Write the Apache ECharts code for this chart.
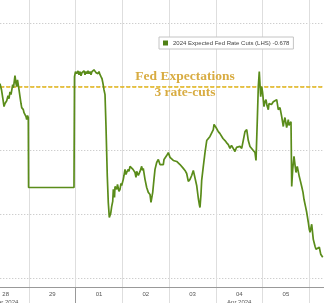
<!DOCTYPE html>
<html>
<head>
<meta charset="utf-8">
<script src="https://cdn.jsdelivr.net/npm/echarts@6/dist/echarts.min.js"></script>
<style>html,body{margin:0;padding:0;background:#fff}#c{width:324px;height:303px}</style>
</head>
<body>
<div id="c"></div>
<script>
// trading-day labels (index 0 = Mar 28, 1 = Mar 29, 2 = Apr 1 ...)
var dayLabels = ['28','29','01','02','03','04','05','08'];
var monthLabels = ['Mar 2024','','','','','Apr 2024','',''];
var monthStartIndex = [2];
var yMin = -0.8, yMax = -0.65, yStep = 0.025;
var threeCuts = -0.75;
var seriesName = '2024 Expected Fed Rate Cuts (LHS) -0.678';
var annotation = ['Fed Expectations', '3 rate-cuts'];

// time in trading-day units, value = expected 2024 cuts (%)
var times = [0.379,0.411,0.444,0.465,0.486,0.523,0.551,0.572,0.593,0.615,0.651,0.668,0.700,0.722,0.737,0.754,0.771,0.786,0.807,0.829,0.844,0.878,0.893,0.914,0.936,0.951,0.968,0.985,0.991,1.963,
1.974,1.995,2.021,2.049,2.070,2.092,2.113,2.134,2.156,2.177,2.199,2.220,2.241,2.263,2.284,2.306,2.327,2.348,2.370,2.391,2.413,2.434,2.455,2.477,2.498,2.520,2.541,2.563,2.584,2.605,2.627,2.648,2.676,2.697,2.719,2.734,2.749,2.770,2.792,2.805,2.830,2.841,2.877,2.894,2.912,2.926,2.948,2.969,2.984,
3.018,3.033,3.055,3.076,3.091,3.125,3.140,3.162,3.198,3.226,3.269,3.290,3.305,3.340,3.376,3.412,3.429,3.446,3.483,3.519,3.554,3.590,3.611,3.648,3.675,3.697,3.733,3.768,3.804,3.840,3.875,3.890,3.947,3.982,
4.018,4.054,4.089,4.125,4.161,4.189,4.232,4.264,4.303,4.339,4.375,4.410,4.446,4.482,4.517,4.553,4.589,4.624,4.649,4.660,4.681,4.696,4.731,4.767,4.804,4.838,4.874,4.911,4.945,4.960,4.981,
5.003,5.052,5.088,5.125,5.152,5.195,5.227,5.266,5.302,5.334,5.373,5.409,5.441,5.480,5.516,5.553,5.587,5.623,5.660,5.694,5.730,5.767,5.801,5.837,5.859,5.887,5.908,5.929,5.944,5.959,5.981,5.998,
6.015,6.030,6.051,6.073,6.094,6.122,6.137,6.158,6.190,6.229,6.265,6.302,6.336,6.372,6.409,6.443,6.458,6.479,6.515,6.550,6.565,6.587,6.608,6.623,6.644,6.672,6.693,6.715,6.742,6.785,6.811,6.837,6.865,6.886,6.918,6.944,6.978,6.999,
7.015,7.051,7.085,7.122,7.143,7.171,7.214,7.244,7.287];
var cuts = [-0.7512,-0.7488,-0.7449,-0.7422,-0.7434,-0.7445,-0.7465,-0.7453,-0.7480,-0.7469,-0.7508,-0.7496,-0.7543,-0.7512,-0.7500,-0.7527,-0.7520,-0.7488,-0.7461,-0.7434,-0.7418,-0.7410,-0.7398,-0.7391,-0.7383,-0.7371,-0.7387,-0.7379,-0.7105,-0.7105,
-0.7539,-0.7559,-0.7551,-0.7562,-0.7547,-0.7559,-0.7543,-0.7555,-0.7551,-0.7562,-0.7547,-0.7559,-0.7551,-0.7562,-0.7551,-0.7559,-0.7547,-0.7559,-0.7555,-0.7566,-0.7562,-0.7555,-0.7559,-0.7551,-0.7559,-0.7547,-0.7539,-0.7531,-0.7512,-0.7488,-0.7469,-0.7344,-0.7148,-0.7047,-0.6988,-0.6984,-0.7004,-0.7031,-0.7051,-0.7098,-0.7066,-0.7109,-0.7098,-0.7117,-0.7113,-0.7090,-0.7098,-0.7121,-0.7113,
-0.7137,-0.7152,-0.7176,-0.7156,-0.7164,-0.7176,-0.7168,-0.7188,-0.7191,-0.7176,-0.7164,-0.7145,-0.7168,-0.7152,-0.7168,-0.7188,-0.7172,-0.7180,-0.7137,-0.7105,-0.7086,-0.7078,-0.7047,-0.7086,-0.7137,-0.7176,-0.7203,-0.7215,-0.7195,-0.7191,-0.7195,-0.7215,-0.7230,-0.7242,
-0.7223,-0.7227,-0.7211,-0.7215,-0.7207,-0.7211,-0.7195,-0.7191,-0.7180,-0.7172,-0.7160,-0.7129,-0.7137,-0.7152,-0.7172,-0.7168,-0.7113,-0.7063,-0.7035,-0.7027,-0.7078,-0.7133,-0.7188,-0.7242,-0.7289,-0.7285,-0.7305,-0.7309,-0.7332,-0.7352,-0.7348,
-0.7340,-0.7324,-0.7316,-0.7309,-0.7297,-0.7289,-0.7281,-0.7273,-0.7258,-0.7270,-0.7266,-0.7246,-0.7262,-0.7262,-0.7266,-0.7258,-0.7262,-0.7324,-0.7332,-0.7289,-0.7266,-0.7266,-0.7250,-0.7242,-0.7211,-0.7371,-0.7500,-0.7559,-0.7508,-0.7461,-0.7500,-0.7480,
-0.7477,-0.7422,-0.7441,-0.7449,-0.7426,-0.7410,-0.7434,-0.7438,-0.7430,-0.7441,-0.7445,-0.7449,-0.7410,-0.7418,-0.7383,-0.7344,-0.7363,-0.7379,-0.7340,-0.7371,-0.7348,-0.7352,-0.7363,-0.7109,-0.7176,-0.7227,-0.7195,-0.7164,-0.7188,-0.7148,-0.7129,-0.7109,-0.7086,-0.7059,-0.7031,-0.7008,-0.6969,-0.6941,
-0.6930,-0.6961,-0.6902,-0.6875,-0.6863,-0.6863,-0.6871,-0.6844,-0.6832];

var data = times.map(function (t, i) { return [t, cuts[i]]; });

var chart = echarts.init(document.getElementById('c'), null, { renderer: 'canvas' });
chart.setOption({
  animation: false,
  backgroundColor: '#fff',
  // grid spans beyond the visible window (chart is a crop of a wider plot)
  grid: { left: -17.72, right: -32.04, top: -41, bottom: -39, outerBoundsMode: 'none', containLabel: false },
  legend: {
    left: 159, top: 37,
    padding: [3, 4, 3, 4],
    itemWidth: 5, itemHeight: 5, icon: 'rect',
    borderColor: '#c4c4c4', borderWidth: 1, backgroundColor: '#fff',
    textStyle: { fontSize: 6, color: '#444', fontFamily: 'Liberation Sans' },
    data: [seriesName]
  },
  xAxis: [
    {
      type: 'category', data: dayLabels, boundaryGap: true, position: 'bottom', offset: -55,
      axisLine: { show: true, onZero: false, lineStyle: { color: '#999', width: 1 } },
      axisTick: { show: false },
      axisLabel: {
        interval: 0, fontSize: 6, color: '#555', margin: 3, lineHeight: 8,
        fontFamily: 'Liberation Sans',
        formatter: function (v, i) { return monthLabels[i] ? v + '\n' + monthLabels[i] : v; }
      },
      splitLine: { show: true, lineStyle: { color: '#dedede', width: 1 } }
    },
    {
      type: 'value', min: 0, max: 8, position: 'bottom', offset: -55,
      axisLine: { show: false, onZero: false },
      axisLabel: { show: false },
      splitLine: { show: false },
      axisTick: { show: true, customValues: monthStartIndex, length: 17, lineStyle: { color: '#999', width: 1 } }
    }
  ],
  yAxis: {
    type: 'value', inverse: true, min: yMin, max: yMax, interval: yStep,
    axisLine: { show: false }, axisLabel: { show: false }, axisTick: { show: false },
    splitLine: { show: true, lineStyle: { color: '#bdbdbd', type: [1, 2], width: 1 } }
  },
  series: [
    {
      name: seriesName,
      type: 'line',
      xAxisIndex: 1,
      data: data,
      showSymbol: false,
      symbol: 'none',
      color: '#4f8014',
      lineStyle: { color: '#5a8c1a', width: 1.7 },
      z: 5,
      markLine: {
        silent: true, symbol: ['none', 'none'], animation: false,
        label: { show: false },
        lineStyle: { color: '#e4b410', type: [4, 2], width: 1.5 },
        data: [{ yAxis: threeCuts }],
        z: 3
      }
    }
  ],
  graphic: [
    { type: 'text', x: 185, y: 77, z: 10,
      style: { text: annotation[0], textAlign: 'center', textVerticalAlign: 'middle',
        font: 'bold 13.5px "Liberation Serif"', fill: '#d8ac42' } },
    { type: 'text', x: 185, y: 93, z: 10,
      style: { text: annotation[1], textAlign: 'center', textVerticalAlign: 'middle',
        font: 'bold 13.5px "Liberation Serif"', fill: '#d8ac42' } }
  ]
});
</script>
</body>
</html>
